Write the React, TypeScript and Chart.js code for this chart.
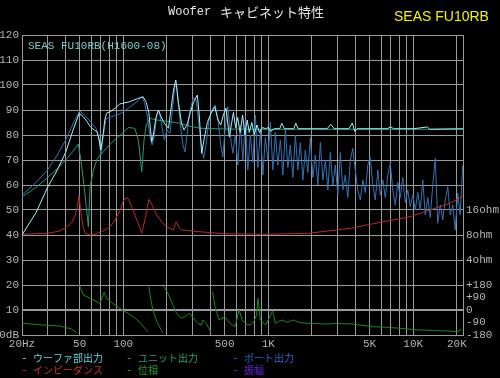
import React, { useEffect, useRef } from "react";
import { Chart, registerables } from "chart.js";

Chart.register(...registerables);

// ---- axis ticks ----
const X_TICKS = [20, 30, 40, 50, 60, 70, 80, 90, 100, 200, 300, 400, 500, 600, 700, 800, 900, 1000, 2000, 3000, 4000, 5000, 6000, 7000, 8000, 9000, 10000, 20000, 22050];
const X_TICK_VALUES = [20, 50, 100, 500, 1000, 5000, 10000, 20000];
const X_TICK_TEXT = ["20Hz", "50", "100", "500", "1K", "5K", "10K", "20K"];
const Y_TICK_VALUES = [0, 10, 20, 30, 40, 50, 60, 70, 80, 90, 100, 110, 120];
const Y_TICK_TEXT = ["0dB", "10", "20", "30", "40", "50", "60", "70", "80", "90", "100", "110", "120"];
const R_TICK_VALUES = [0, 5, 10, 15, 20, 30, 40, 50];
const R_TICK_TEXT = ["-180", "-90", "0", "+90", "+180", "4ohm", "8ohm", "16ohm"];

// ---- series ----
const SERIES_LABELS = ["ウーファ部出力", "ユニット出力", "ポート出力", "インピーダンス", "位相", "振幅"];

const wooferFreq = [20, 25, 30, 35, 40, 45, 49.7, 53, 56, 59.3, 63, 65.9, 68, 70, 72.5, 74.5, 76.6, 81, 88, 94.5, 110, 125, 137, 144, 150, 154, 157, 161, 168, 174.6, 180, 190, 205, 215, 222, 230, 240, 252, 262, 275, 290, 305, 324, 334, 347, 360, 380, 405, 428, 450, 470, 490, 511, 539, 556, 575, 595, 615, 640, 665, 690, 715, 740, 770, 800, 835, 870, 910, 960, 1000, 1040, 1100, 1200, 1240, 1290, 1500, 1550, 1610, 2000, 2550, 2700, 2850, 3600, 3800, 3950, 4100, 6600, 7000, 7300, 10000, 12500, 13000, 22050];
const wooferDb = [40, 49, 59, 66, 73, 82, 88.7, 87.3, 85.5, 83.3, 82, 81.3, 78, 74, 80, 86, 88.7, 89.3, 90.8, 92.4, 93.3, 94.5, 95.3, 93, 89, 82, 77.3, 80, 87, 90, 88, 85, 82.7, 92, 98, 102, 93, 84.7, 82, 84, 89, 93, 96, 88, 72.7, 78, 85, 89, 91.3, 86, 84, 88, 90.7, 79.3, 84, 89, 83, 87, 81, 88, 80, 86, 81, 85, 80, 84, 81, 83, 82.5, 83, 81.5, 82.5, 82.5, 84.7, 82.5, 82.5, 84.7, 82.5, 82.5, 82.5, 84.3, 82.5, 82.5, 84.8, 81.5, 82.5, 82.5, 83.3, 82.5, 82.5, 83.2, 82.3, 82.5];

const unitFreq = [20, 25, 30, 35, 40, 45, 48.9, 51, 54, 57.4, 59, 62.3, 66, 72.8, 80, 90, 100, 108, 120, 127, 134, 139, 144, 152, 170, 200, 245, 290, 338, 500, 1000, 3000, 10000, 22050];
const unitDb = [55.3, 59, 63, 66.5, 70, 73.5, 76.4, 70, 58, 43.3, 59.3, 66, 70.5, 73.3, 76, 78.7, 81, 83, 82.7, 78, 65.3, 78, 84, 86.7, 86, 85.5, 84.7, 83.5, 82.7, 82.4, 82.3, 82.3, 82.3, 82.3];

const portFreq = [20, 25, 30, 35, 40, 45, 50, 55, 60, 65, 68, 70, 72, 76, 85, 95, 110, 125, 134, 140, 146, 152, 158, 164, 170, 176, 184, 192, 200, 210, 218, 226, 232, 240, 250, 258, 266, 275, 285, 295, 305, 318, 330, 345, 358, 372, 390, 410, 430, 450, 470, 486, 500, 515, 526, 540, 555, 570, 593, 617, 642, 668, 695, 723, 752, 783, 815, 848, 882, 918, 955, 994, 1034, 1076, 1120, 1165, 1212, 1261, 1312, 1365, 1420, 1478, 1538, 1600, 1665, 1732, 1802, 1875, 1951, 2030, 2112, 2198, 2287, 2380, 2476, 2576, 2680, 2789, 2902, 3019, 3141, 3268, 3400, 3538, 3681, 3830, 3985, 4146, 4314, 4489, 4671, 4860, 5057, 5262, 5475, 5697, 5928, 6168, 6418, 6678, 6948, 7229, 7522, 7826, 8143, 8473, 8816, 9173, 9544, 9930, 10332, 10750, 11185, 11638, 12109, 12599, 13109, 13640, 14192, 14767, 15365, 15987, 16634, 17307, 18008, 18737, 19496, 20285, 21106, 21960];
const portDb = [56, 61, 66, 72, 78, 84.5, 89.7, 87.5, 85, 82.5, 79, 72, 78, 86.5, 87.5, 88.5, 91, 93.5, 95.3, 93, 88, 80, 76, 80, 88, 90, 84, 78, 82, 80.7, 90, 99, 101, 92, 82, 76, 73.3, 80, 88, 92, 95, 94, 86, 76, 70.7, 76, 86, 90, 92, 86, 76, 71.3, 80, 88, 91.3, 84, 77, 72.7, 80, 68, 84, 70, 86, 66, 80, 69, 88, 67, 82, 64, 79, 70, 85, 66, 81, 68, 78, 64, 82, 67, 76, 63, 80, 66, 77, 62, 74, 65, 79, 63, 72, 60, 77, 62, 70, 58, 73, 60, 68, 56, 73, 58, 64, 55, 70, 74.7, 66, 58, 54, 62, 57, 68, 71, 60, 54, 66, 56, 62, 55, 64, 68.7, 58, 52, 61, 55, 63, 53, 58, 51.3, 56, 50, 57, 50, 62, 48, 55, 47, 60, 70.7, 44.7, 52, 46, 54, 59.3, 48, 52, 42, 56.7, 48, 68];

const impFreq = [20, 30, 36, 40.8, 44, 46.2, 48, 49.4, 51.5, 53, 54.5, 59, 65, 72, 81, 88, 95, 100, 104, 108, 115, 124, 134, 142, 150, 158, 170, 185, 199, 221, 232, 242, 252, 338, 500, 1000, 1900, 3700, 6200, 9500, 13000, 18000, 22050];
const impVal = [40.3, 40.7, 41.5, 43.3, 45, 47.3, 51, 55.6, 47.3, 43, 40.7, 40, 40.5, 41.5, 43.3, 46, 50, 53.5, 55, 54.5, 51, 46, 40.7, 47, 54.3, 52, 48, 45, 43.3, 42, 45.3, 43, 42, 41.3, 40.5, 40.3, 40.7, 42.7, 45.3, 47.3, 50, 52.7, 55.6];

const phaseFreq = [20, 28, 36.5, 44, 48, 48.9, 49.8, 53, 60, 65, 69, 73.6, 77, 83, 94.6, 117.6, 130, 148, 149, 150, 155, 160, 170, 187, 188, 189, 203, 218, 233, 252, 270, 287, 311, 328, 345, 354, 375, 400, 406, 413, 430, 458, 501, 543, 590, 630, 660, 700, 747, 790, 830, 850, 880, 960, 1010, 1070, 1120, 1180, 1260, 1350, 1480, 1650, 1830, 2500, 3000, 3800, 5300, 6500, 8100, 11000, 14000, 17300, 20000, 21500];
const phaseVal = [4.7, 4, 3.6, 2.4, 0.7, null, 20, 16, 14.5, 13.5, 12.7, 17, 14.5, 13, 10.7, 7.3, 5, 1.3, null, 19.3, 14, 10, 5.5, 0.9, null, 19.6, 16.7, 12.5, 8.7, 6.7, 7.5, 8.7, 6, 4.5, 4, 6, 4.5, 1.3, null, 17.3, 11, 6, 7.3, 4.7, 3.3, 10, 6, 4.5, 4, 5, 8, 14.7, 6, 4, 6.5, 9.7, 4.7, 5.5, 6, 5, 6, 5, 4.7, 4.4, 4.6, 4.4, 3.3, 3.1, 2.7, 2, 1.8, 1.6, 1.3, 2.3];

const ampFreq: number[] = [];
const ampVal: number[] = [];

// ---- styling ----
const LINE_COLORS = ["#a4f2f4", "#28967a", "#3472b2", "#b82a2a", "#1c861c", "#8020e0"];
const LEGEND_COLORS = ["#58d8e0", "#20a078", "#2468c8", "#cc2c2c", "#22a022", "#6a22e0"];
const GRID = "#9a9a9a";

const toPoints = (xs: number[], ys: (number | null)[]) => xs.map((x, i) => ({ x, y: ys[i] }));

const MONO = "'Liberation Mono', 'DejaVu Sans Mono', monospace";
const CJK = "'Noto Sans CJK JP', sans-serif";

const bgPlugin = {
  id: "bg",
  beforeDraw(chart: any) {
    const ctx = chart.ctx;
    ctx.save();
    ctx.fillStyle = "#000";
    ctx.fillRect(0, 0, chart.width, chart.height);
    ctx.restore();
  },
};

const textPlugin = {
  id: "texts",
  afterDraw(chart: any) {
    const ctx = chart.ctx;
    ctx.save();
    ctx.textBaseline = "middle";
    ctx.textAlign = "left";
    // title
    ctx.fillStyle = "#e6e6e6";
    ctx.font = `12px ${MONO}`;
    ctx.fillText("Woofer", 168, 12);
    ctx.font = `13px ${CJK}`;
    ctx.fillText("キャビネット特性", 220, 12);
    // model name
    ctx.fillStyle = "#f2f200";
    ctx.font = "14px 'Liberation Sans', Arial, sans-serif";
    ctx.fillText("SEAS FU10RB", 394, 17);
    // inner note
    ctx.fillStyle = "#7ccaca";
    ctx.font = `11px ${MONO}`;
    ctx.fillText("SEAS FU10RB(H1600-08)", 28, 46.5);
    // legend
    const cols = [22, 127, 233];
    const rows = [358, 370];
    chart.data.datasets.forEach((ds: any, i: number) => {
      const x = cols[i % 3];
      const y = rows[Math.floor(i / 3)];
      ctx.fillStyle = LEGEND_COLORS[i];
      ctx.font = `11px ${MONO}`;
      ctx.fillText("-", x - 1, y);
      ctx.font = `10px ${CJK}`;
      ctx.fillText(ds.label, x + 11, y);
    });
    ctx.restore();
  },
};

export default function App() {
  const ref = useRef<HTMLCanvasElement>(null);

  useEffect(() => {
    if (!ref.current) return;
    const mk = (i: number, xs: number[], ys: (number | null)[], order: number) => ({
      label: SERIES_LABELS[i],
      data: toPoints(xs, ys),
      borderColor: LINE_COLORS[i],
      backgroundColor: LINE_COLORS[i],
      borderWidth: 1,
      pointRadius: 0,
      tension: 0,
      spanGaps: false,
      fill: false,
      order,
    });
    const chart = new Chart(ref.current, {
      type: "line",
      data: {
        datasets: [
          mk(0, wooferFreq, wooferDb, 1),
          mk(1, unitFreq, unitDb, 3),
          mk(2, portFreq, portDb, 4),
          mk(3, impFreq, impVal, 2),
          mk(4, phaseFreq, phaseVal, 2),
          mk(5, ampFreq, ampVal, 2),
        ],
      },
      options: {
        responsive: false,
        animation: false,
        devicePixelRatio: 1,
        layout: { padding: { top: 35, bottom: 30, left: 0, right: 0 } },
        plugins: { legend: { display: false }, tooltip: { enabled: false }, title: { display: false } },
        scales: {
          x: {
            type: "logarithmic",
            min: 20,
            max: 22050,
            afterBuildTicks: (s: any) => {
              s.ticks = X_TICKS.map((v) => ({ value: v }));
            },
            afterFit: (s: any) => {
              s.height = 13;
            },
            ticks: {
              autoSkip: false,
              maxRotation: 0,
              minRotation: 0,
              padding: 2,
              color: "#b4b4b4",
              font: { family: MONO, size: 11 },
              callback: (v: any) => {
                const k = X_TICK_VALUES.indexOf(Number(v));
                return k >= 0 ? X_TICK_TEXT[k] : "";
              },
            },
            grid: { color: GRID, lineWidth: 1, drawTicks: false },
            border: { display: true, color: GRID },
          },
          y: {
            type: "linear",
            position: "left",
            min: 0,
            max: 120,
            afterBuildTicks: (s: any) => {
              s.ticks = Y_TICK_VALUES.map((v) => ({ value: v }));
            },
            afterFit: (s: any) => {
              s.width = 22;
            },
            ticks: {
              padding: 3,
              color: "#b4b4b4",
              font: { family: MONO, size: 11 },
              callback: (v: any) => {
                const k = Y_TICK_VALUES.indexOf(Number(v));
                return k >= 0 ? Y_TICK_TEXT[k] : "";
              },
            },
            grid: {
              color: GRID,
              lineWidth: (c: any) => (c.tick && c.tick.value === 10 ? 2 : 1),
              drawTicks: false,
            },
            border: { display: true, color: GRID },
          },
          y2: {
            type: "linear",
            position: "right",
            min: 0,
            max: 120,
            afterBuildTicks: (s: any) => {
              s.ticks = R_TICK_VALUES.map((v) => ({ value: v }));
            },
            afterFit: (s: any) => {
              s.width = 37;
            },
            ticks: {
              padding: 3,
              color: "#b4b4b4",
              font: { family: MONO, size: 11 },
              callback: (v: any) => {
                const k = R_TICK_VALUES.indexOf(Number(v));
                return k >= 0 ? R_TICK_TEXT[k] : "";
              },
            },
            grid: { drawOnChartArea: false, drawTicks: false },
            border: { display: true, color: GRID },
          },
        },
      },
      plugins: [bgPlugin, textPlugin],
    } as any);
    return () => chart.destroy();
  }, []);

  return (
    <div style={{ position: "absolute", left: 0, top: 0, width: 500, height: 378, background: "#000" }}>
      <canvas ref={ref} width={500} height={378} style={{ display: "block" }} />
    </div>
  );
}
